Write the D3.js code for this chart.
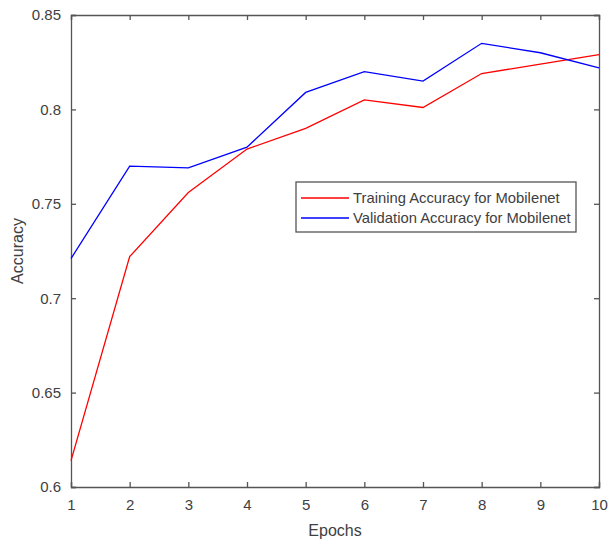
<!DOCTYPE html>
<html>
<head>
<meta charset="utf-8">
<script src="https://cdn.jsdelivr.net/npm/d3@7"></script>
<style>
  body { margin: 0; background: #fff; }
  svg text { font-family: "Liberation Sans", Arial, sans-serif; fill: #404040; }
</style>
</head>
<body>
<div id="chart"></div>
<script>
var epochs = [1, 2, 3, 4, 5, 6, 7, 8, 9, 10];
var training = [0.614, 0.722, 0.756, 0.779, 0.790, 0.805, 0.801, 0.819, 0.824, 0.829];
var validation = [0.721, 0.770, 0.769, 0.780, 0.809, 0.820, 0.815, 0.835, 0.830, 0.822];
var yTicks = [0.6, 0.65, 0.7, 0.75, 0.8, 0.85];
var seriesNames = ["Training Accuracy for Mobilenet", "Validation Accuracy for Mobilenet"];
var seriesColors = ["#ff0000", "#0000ff"];

var width = 609, height = 548;
var plotL = 71, plotR = 599, plotT = 15, plotB = 487;

var svg = d3.select("#chart").append("svg")
  .attr("width", width).attr("height", height);

var x = d3.scaleLinear().domain([1, 10]).range([plotL, plotR]);
var y = d3.scaleLinear().domain([0.6, 0.85]).range([plotB, plotT]);

var axisColor = "#555";

// axes with inward ticks, on all four sides
var xb = svg.append("g").attr("transform", "translate(0," + plotB + ")")
  .call(d3.axisBottom(x).tickValues(epochs).tickSize(-5).tickPadding(12).tickFormat(d3.format("d")));
var xt = svg.append("g").attr("transform", "translate(0," + plotT + ")")
  .call(d3.axisTop(x).tickValues(epochs).tickSize(-5).tickFormat(""));
var yl = svg.append("g").attr("transform", "translate(" + plotL + ",0)")
  .call(d3.axisLeft(y).tickValues(yTicks).tickSize(-5).tickPadding(10).tickFormat(function(d){ return String(+d.toFixed(2)); }));
var yr = svg.append("g").attr("transform", "translate(" + plotR + ",0)")
  .call(d3.axisRight(y).tickValues(yTicks).tickSize(-5).tickFormat(""));

[xb, xt, yl, yr].forEach(function(g) {
  g.select(".domain").attr("stroke", axisColor).attr("stroke-width", 1.3);
  g.selectAll(".tick line").attr("stroke", axisColor).attr("stroke-width", 1.3);
  g.selectAll(".tick text").style("font-size", "15px");
});

var line = d3.line()
  .x(function(d, i){ return x(epochs[i]); })
  .y(function(d){ return y(d); });

[training, validation].forEach(function(s, k) {
  svg.append("path")
    .attr("d", line(s))
    .attr("fill", "none")
    .attr("stroke", seriesColors[k])
    .attr("stroke-width", 1.3);
});

// axis labels
svg.append("text")
  .attr("x", (plotL + plotR) / 2).attr("y", 536)
  .attr("text-anchor", "middle")
  .style("font-size", "16px")
  .text("Epochs");

svg.append("text")
  .attr("transform", "translate(23," + ((plotT + plotB) / 2) + ") rotate(-90)")
  .attr("text-anchor", "middle")
  .style("font-size", "16px")
  .text("Accuracy");

// legend
var lg = svg.append("g").attr("transform", "translate(296,182)");
lg.append("rect")
  .attr("width", 280).attr("height", 50)
  .attr("fill", "#fff").attr("stroke", axisColor).attr("stroke-width", 1.3);
seriesNames.forEach(function(name, k) {
  var yy = 16 + k * 20;
  lg.append("line")
    .attr("x1", 5).attr("x2", 53).attr("y1", yy).attr("y2", yy)
    .attr("stroke", seriesColors[k]).attr("stroke-width", 1.3);
  lg.append("text")
    .attr("x", 57).attr("y", yy + 5)
    .style("font-size", "14.8px")
    .text(name);
});
</script>
</body>
</html>
